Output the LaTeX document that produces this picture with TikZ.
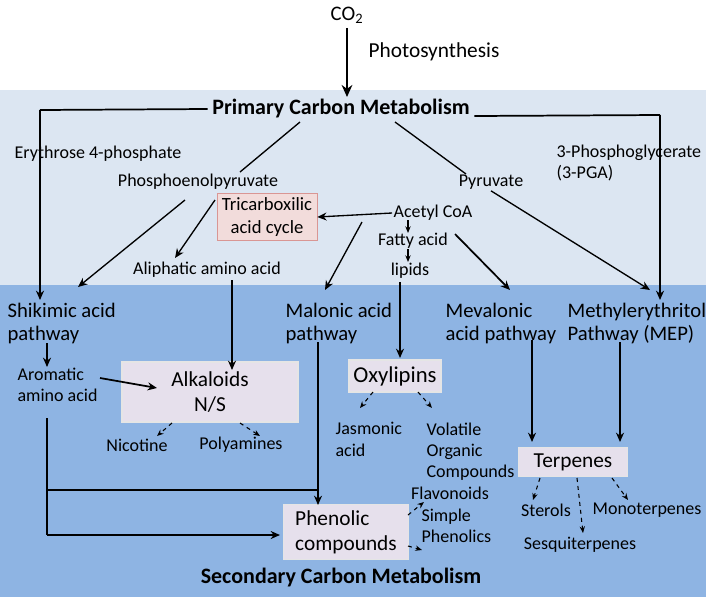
\documentclass[tikz,border=0pt]{standalone}
\usepackage{fontspec}
\setmainfont{Carlito}
\usetikzlibrary{arrows.meta}
\definecolor{lightband}{HTML}{DCE6F2}
\definecolor{darkband}{HTML}{8EB4E3}
\definecolor{boxfill}{HTML}{E6E0EC}
\definecolor{tcafill}{HTML}{F2DCDB}
\definecolor{tcaline}{HTML}{D99694}
\begin{document}
\begin{tikzpicture}[x=0.75pt,y=-0.75pt,
  lbl/.style={font=\fontsize{13.5}{16}\selectfont,inner sep=1pt},
  mid/.style={font=\fontsize{15.5}{17}\selectfont,align=left,inner sep=1pt},
  bx/.style={draw=white!80!gray,fill=boxfill,line width=1pt},
  arr/.style={-{Stealth[length=7pt,width=6pt]},line width=1.3pt},
  sarr/.style={-{Stealth[length=5pt,width=4pt]},line width=0.8pt},
  dsh/.style={-{Stealth[length=5pt,width=4pt]},dashed,line width=0.8pt}]
\useasboundingbox (0,0) rectangle (706,597);
\fill[lightband] (0,90) rectangle (706,285);
\fill[darkband] (0,285) rectangle (706,597);
\node[font=\fontsize{15.5}{17}\selectfont] (co2) at (347,15) {CO\textsubscript{2}};
\node[font=\fontsize{16}{18}\selectfont] (ps) at (434,52) {Photosynthesis};
\node[font=\bfseries\fontsize{16.5}{19}\selectfont] (pcm) at (341,109) {Primary Carbon Metabolism};
\draw[-{Stealth[length=9pt,width=8pt]},line width=2pt] (co2.south) -- (347,97);
\node[lbl] (e4p) at (98,154) {Erythrose 4-phosphate};
\node[lbl,align=left,anchor=west] (pga) at (555,163) {3-Phosphoglycerate\\(3-PGA)};
\node[lbl] (pep) at (198,182) {Phosphoenolpyruvate};
\node[lbl] (pyr) at (491,182) {Pyruvate};
\node[draw=tcaline,fill=tcafill,minimum width=75pt,inner sep=3pt,align=center,font=\fontsize{14}{17}\selectfont] (tca) at (267,217) {Tricarboxilic\\acid cycle};
\node[lbl] (aco) at (433,213) {Acetyl CoA};
\node[lbl] (fa) at (413,241) {Fatty acid};
\node[lbl] (lip) at (410,271) {lipids};
\node[lbl] (aaa) at (207,270) {Aliphatic amino acid};
\coordinate (tl) at (40,110); \coordinate (tr) at (660,115);
\draw[line width=1.3pt] (pcm.west) -- (tl);
\draw[arr] (tl) -- (40,300);
\draw[line width=1.3pt] (pcm.east) ++(0,7) -- (tr);
\draw[arr] (tr) -- (660,300);
\draw[line width=1pt] (300,122) -- (240,172);
\draw[line width=1pt] (395,122) -- (466,174);
\draw[arr,line width=1pt] (185,200) -- (78,287);
\draw[arr,line width=1pt] (215,200) -- (175,258);
\draw[arr,line width=1pt] (aco.west) -- (tca.east);
\draw[arr,line width=1pt] (362,222) -- (325,290);
\draw[sarr] (408,220) -- (408,233);
\draw[sarr] (408,249) -- (408,262);
\draw[arr] (455,234) -- (510,290);
\draw[arr,line width=1pt] (pyr.south) -- (650,290);
\node[mid,anchor=north west] (shk) at (6,302) {Shikimic acid\\pathway};
\node[mid,anchor=north west] (mal) at (284,302) {Malonic acid\\pathway};
\node[mid,anchor=north west] (mev) at (444,302) {Mevalonic\\acid pathway};
\node[mid,anchor=north west] (mep) at (566,302) {Methylerythritol\\Pathway (MEP)};
\draw[arr] (47,343) -- (47,367);
\node[lbl,align=left,anchor=north west] (aro) at (16,366) {Aromatic\\amino acid};
\node[bx,minimum width=132pt,minimum height=45pt,align=center,font=\fontsize{16}{19}\selectfont] (alk) at (210,392) {Alkaloids\\N/S};
\draw[arr] (100,378) -- (157,388);
\draw[arr] (232,280) -- (232,370);
\node[lbl] (nic) at (137,445) {Nicotine};
\node[lbl] (pol) at (241,445) {Polyamines};
\draw[dsh] (172,423) -- (157,436);
\draw[dsh] (240,423) -- (260,436);
\draw[arr] (400,282) -- (400,358);
\node[bx,minimum width=56pt,minimum height=24pt,font=\fontsize{17}{19}\selectfont] (oxy) at (395,376) {Oxylipins};
\node[lbl,align=left,anchor=north west] (jas) at (334,421) {Jasmonic\\acid};
\node[lbl,align=left,anchor=north west] (voc) at (425,421) {Volatile\\Organic\\Compounds};
\draw[dsh] (373,392) -- (360,408);
\draw[dsh] (418,392) -- (432,408);
\node[bx,minimum width=94pt,minimum height=41pt,align=left,font=\fontsize{16}{19}\selectfont] (phe) at (346,532) {Phenolic\\compounds};
\draw[arr] (318,342) -- (318,505);
\draw[line width=1.3pt] (47,418) -- (47,535);
\draw[arr] (47,535) -- (280,535);
\draw[line width=1.3pt] (47,490) -- (318,490);
\node[lbl] (fla) at (450,493) {Flavonoids};
\node[lbl,align=left,anchor=north west] (sph) at (420,507) {Simple\\Phenolics};
\draw[dsh] (408,515) -- (424,502);
\draw[dsh] (408,546) -- (422,550);
\draw[arr] (532,340) -- (532,442);
\draw[arr] (620,342) -- (620,442);
\node[bx,minimum width=82pt,minimum height=22pt,font=\fontsize{16}{19}\selectfont] (ter) at (573,462) {Terpenes};
\node[lbl] (ste) at (546,510) {Sterols};
\node[lbl] (ses) at (580,545) {Sesquiterpenes};
\node[lbl] (mon) at (647,510) {Monoterpenes};
\draw[dsh] (540,478) -- (533,500);
\draw[dsh] (577,478) -- (583,533);
\draw[dsh] (612,478) -- (628,500);
\node[font=\bfseries\fontsize{16.5}{19}\selectfont] (scm) at (341,577) {Secondary Carbon Metabolism};
\end{tikzpicture}
\end{document}
